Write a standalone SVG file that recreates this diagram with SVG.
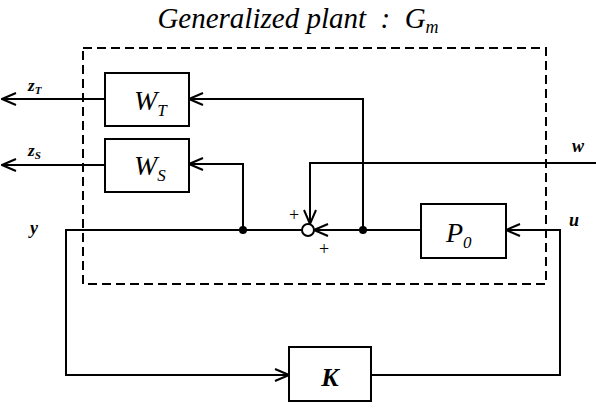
<svg xmlns="http://www.w3.org/2000/svg" width="596" height="408" viewBox="0 0 596 408">
<style>
.box{fill:#fff;stroke:#000;stroke-width:2}
.ln{fill:none;stroke:#000;stroke-width:2}
.t{font-style:italic;fill:#000}
.lb{font-style:italic;font-weight:bold;fill:#000}
</style>
<defs>
<marker id="arr" viewBox="0 0 16 14" refX="15" refY="7" markerWidth="16" markerHeight="14" markerUnits="userSpaceOnUse" orient="auto">
<path d="M1,1 L15,7 L1,13" fill="none" stroke="#000" stroke-width="2"/>
</marker>
</defs>
<rect width="596" height="408" fill="#fff"/>
<g font-family="Liberation Serif, DejaVu Serif, serif">
<text class="t" x="298" y="28" font-size="29" text-anchor="middle" xml:space="preserve">Generalized plant  :  G<tspan font-size="18" dy="5">m</tspan></text>
</g>
<rect id="plant-boundary" x="83" y="48" width="463" height="236" fill="none" stroke="#000" stroke-width="2" stroke-dasharray="9,5"/>
<g id="connectors">
<path class="ln" d="M105,99 H2" marker-end="url(#arr)"/>
<path class="ln" d="M105,165 H2" marker-end="url(#arr)"/>
<path class="ln" d="M363,230 V99 H189" marker-end="url(#arr)"/>
<path class="ln" d="M243,230 V164 H189" marker-end="url(#arr)"/>
<path class="ln" d="M596,163 H310 V224" marker-end="url(#arr)"/>
<path class="ln" d="M421,230 H314" marker-end="url(#arr)"/>
<path class="ln" d="M302,230 H66 V375 H289" marker-end="url(#arr)"/>
<path class="ln" d="M371,375 H560 V230 H506" marker-end="url(#arr)"/>
</g>
<g font-family="Liberation Serif, DejaVu Serif, serif">
<g id="WT"><rect class="box" x="105" y="73" width="84" height="53"/><text class="t" x="134" y="110" font-size="28">W<tspan font-size="17" dy="6">T</tspan></text></g>
<g id="WS"><rect class="box" x="105" y="139" width="84" height="53"/><text class="t" x="134" y="175" font-size="28">W<tspan font-size="17" dy="6">S</tspan></text></g>
<g id="P0"><rect class="box" x="421" y="204" width="85" height="54"/><text class="t" x="446" y="242" font-size="28">P<tspan font-size="17" dy="6">0</tspan></text></g>
<g id="K"><rect class="box" x="289" y="347" width="82" height="54"/><text class="lb" x="330" y="386" font-size="26" text-anchor="middle">K</text></g>
<g id="sum"><circle cx="308" cy="230" r="6" fill="#fff" stroke="#000" stroke-width="2"/>
<text x="294" y="221" font-size="18" text-anchor="middle">+</text>
<text x="324" y="255" font-size="18" text-anchor="middle">+</text></g>
<g id="junction1"><circle cx="243" cy="230" r="4" fill="#000"/></g>
<g id="junction2"><circle cx="363" cy="230" r="4" fill="#000"/></g>
<g id="labels">
<text class="lb" x="28" y="91" font-size="17">z<tspan font-size="11" dy="3">T</tspan></text>
<text class="lb" x="28" y="156" font-size="17">z<tspan font-size="11" dy="3">S</tspan></text>
<text class="lb" x="572" y="152" font-size="18">w</text>
<text class="lb" x="569" y="226" font-size="18">u</text>
<text class="lb" x="30" y="234" font-size="18">y</text>
</g>
</g>
</svg>
